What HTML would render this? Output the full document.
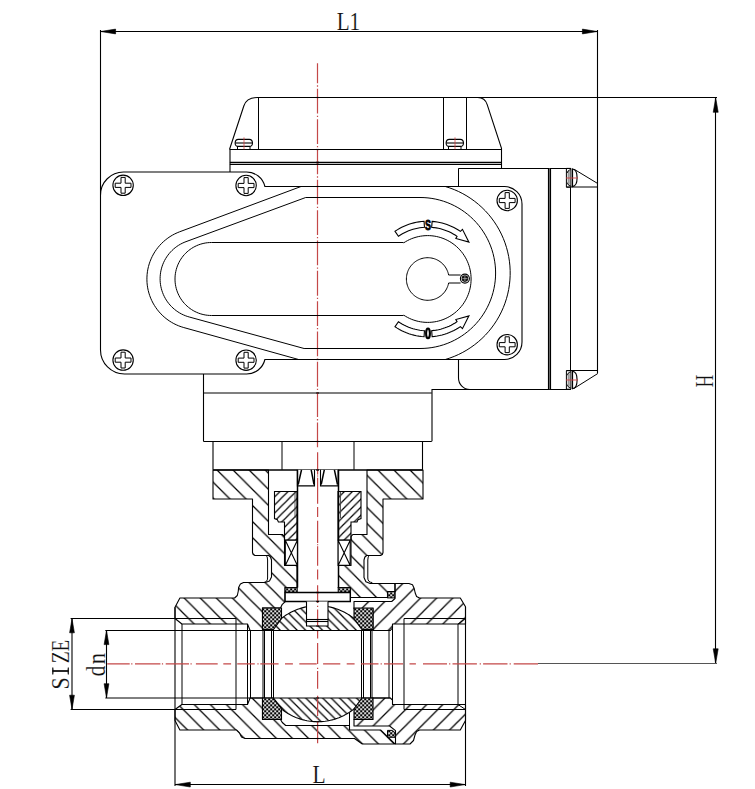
<!DOCTYPE html>
<html><head><meta charset="utf-8"><style>
html,body{margin:0;padding:0;background:#fff;}
svg{display:block;}
</style></head><body>
<svg width="755" height="789" viewBox="0 0 755 789" font-family="Liberation Serif, serif">
<rect width="755" height="789" fill="#fff"/>
<defs><pattern id="hA" patternUnits="userSpaceOnUse" x="4.28" y="0" width="16.08" height="16.08"><path d="M-2,-2 L18.08,18.08 M14.08,-2 L18.08,2 M-2,14.08 L2,18.08" stroke="#000" stroke-width="1.25"/></pattern><pattern id="hB" patternUnits="userSpaceOnUse" x="12.8" y="0" width="16.4" height="16.4"><path d="M-2,-2 L18.4,18.4 M14.4,-2 L18.4,2 M-2,14.4 L2,18.4" stroke="#000" stroke-width="1"/></pattern><pattern id="hC" patternUnits="userSpaceOnUse" x="4.3" y="0" width="16.1" height="16.1"><path d="M-2,18.1 L18.1,-2 M-2,2 L2,-2 M14.1,18.1 L18.1,14.1" stroke="#000" stroke-width="1.25"/></pattern><pattern id="hG" patternUnits="userSpaceOnUse" x="6.75" y="0" width="8.05" height="8.05"><path d="M-2,10.05 L10.05,-2 M-2,2 L2,-2 M6.05,10.05 L10.05,6.05" stroke="#000" stroke-width="1.25"/></pattern><pattern id="hBall" patternUnits="userSpaceOnUse" x="4.95" y="0" width="8.45" height="8.45"><path d="M-2,-2 L10.45,10.45 M6.45,-2 L10.45,2 M-2,6.45 L2,10.45" stroke="#000" stroke-width="1.25"/></pattern><pattern id="chk" patternUnits="userSpaceOnUse" width="4" height="4" x="0.2" y="0.3"><rect width="4" height="4" fill="#000"/><circle cx="1" cy="1" r="1.05" fill="#fff"/><circle cx="3" cy="3" r="1.05" fill="#fff"/></pattern></defs><path d="M229.5,149.5 L243.8,106 Q246.5,97.5 257.5,97.5 L477.7,97.5 Q485,97.5 487.2,104.6 L501.5,148.3 L501.5,168.5" stroke="#000" stroke-width="1.1" fill="none" /><line x1="229.9" y1="149.5" x2="501.5" y2="149.5" stroke="#000" stroke-width="1.1" /><line x1="230" y1="149.3" x2="230" y2="172" stroke="#000" stroke-width="1.1" /><line x1="258.5" y1="97.3" x2="258.5" y2="149.3" stroke="#000" stroke-width="1" /><line x1="443.5" y1="97.3" x2="443.5" y2="149.3" stroke="#000" stroke-width="1" /><line x1="466.5" y1="97.3" x2="466.5" y2="149.3" stroke="#000" stroke-width="1" /><line x1="229.9" y1="162.5" x2="501.5" y2="162.5" stroke="#000" stroke-width="1.6" /><line x1="229.9" y1="164.5" x2="501.5" y2="164.5" stroke="#000" stroke-width="1" /><path d="M238.3,139.4 L249.3,139.4 C253.4,139.4 253.4,146.4 250,146.4 L237.6,146.4 C234.2,146.4 234.2,139.4 238.3,139.4 Z" stroke="#000" stroke-width="1.1" fill="#fff" /><line x1="235.2" y1="143" x2="252.4" y2="143" stroke="#000" stroke-width="1.1" /><line x1="237.5" y1="146.4" x2="237.5" y2="149.3" stroke="#000" stroke-width="1" /><line x1="250" y1="146.4" x2="250" y2="149.3" stroke="#000" stroke-width="1" /><line x1="244" y1="137.4" x2="244" y2="149.3" stroke="#d04040" stroke-width="0.8" /><path d="M449.3,139.4 L460.3,139.4 C464.4,139.4 464.4,146.4 461,146.4 L448.6,146.4 C445.2,146.4 445.2,139.4 449.3,139.4 Z" stroke="#000" stroke-width="1.1" fill="#fff" /><line x1="446.2" y1="143" x2="463.4" y2="143" stroke="#000" stroke-width="1.1" /><line x1="448.5" y1="146.4" x2="448.5" y2="149.3" stroke="#000" stroke-width="1" /><line x1="461" y1="146.4" x2="461" y2="149.3" stroke="#000" stroke-width="1" /><line x1="455" y1="137.4" x2="455" y2="149.3" stroke="#d04040" stroke-width="0.8" /><line x1="458.5" y1="168.5" x2="570.9" y2="168.5" stroke="#000" stroke-width="1.1" /><line x1="458.5" y1="168.4" x2="458.5" y2="186.4" stroke="#000" stroke-width="1" /><path d="M458.5,359 L458.5,378 A11.5,11.5 0 0 0 470,389.5 L570.9,389.5" stroke="#000" stroke-width="1.1" fill="none" /><line x1="431.8" y1="389.5" x2="470" y2="389.5" stroke="#000" stroke-width="1.1" /><line x1="548.5" y1="168.4" x2="548.5" y2="389.2" stroke="#000" stroke-width="1.15" /><line x1="549.5" y1="168.4" x2="549.5" y2="389.2" stroke="#707070" stroke-width="1" /><line x1="550.5" y1="168.4" x2="550.5" y2="389.2" stroke="#000" stroke-width="1.15" /><line x1="570.5" y1="187.2" x2="570.5" y2="370.7" stroke="#000" stroke-width="1" /><path d="M566.4,168.4 L570.9,168.4 L570.9,187.2 L566.4,187.2Z" stroke="#000" stroke-width="1" fill="none" /><line x1="566.4" y1="187" x2="598" y2="187" stroke="#000" stroke-width="1" /><rect x="567.6" y="170.9" width="2.2" height="13.8" fill="#999"/><line x1="572.5" y1="168.4" x2="572.5" y2="187.2" stroke="#000" stroke-width="1.2" /><path d="M572.5,169 C576.2,169.4 577.1,172.9 577.1,177.8 C577.1,182.7 576.2,186.2 572.5,186.6" stroke="#000" stroke-width="1.1" fill="none" /><path d="M570.8,169.6 C568,170.2 567.4,171.9 567.4,172.9 M567.4,182.7 C567.4,183.7 568,185.4 570.8,186" stroke="#000" stroke-width="1" fill="none" /><line x1="574.2" y1="169.3" x2="597.7" y2="183.5" stroke="#000" stroke-width="1" /><line x1="566" y1="178" x2="578" y2="178" stroke="#d04040" stroke-width="0.9" /><path d="M566.4,370.7 L570.9,370.7 L570.9,389.2 L566.4,389.2Z" stroke="#000" stroke-width="1" fill="none" /><line x1="566.4" y1="370.5" x2="598" y2="370.5" stroke="#000" stroke-width="1" /><rect x="567.6" y="373.2" width="2.2" height="13.5" fill="#999"/><line x1="572.5" y1="370.7" x2="572.5" y2="389.2" stroke="#000" stroke-width="1.2" /><path d="M572.5,371.3 C576.2,371.7 577.1,375.2 577.1,379.95 C577.1,384.7 576.2,388.2 572.5,388.6" stroke="#000" stroke-width="1.1" fill="none" /><path d="M570.8,371.9 C568,372.5 567.4,374.2 567.4,375.2 M567.4,384.7 C567.4,385.7 568,387.4 570.8,388" stroke="#000" stroke-width="1" fill="none" /><line x1="574.2" y1="388.3" x2="597.7" y2="373.6" stroke="#000" stroke-width="1" /><line x1="566" y1="380" x2="578" y2="380" stroke="#d04040" stroke-width="0.9" /><line x1="597.5" y1="30" x2="597.5" y2="373.6" stroke="#000" stroke-width="1.1" /><path d="M100.5,195 A23,23 0 0 1 123.5,172 L246.5,172 A18.8,18.8 0 0 1 264.9,186.5 L504.5,186.5 A17.5,17.5 0 0 1 522,204 L522,342 A17.5,17.5 0 0 1 504.5,359.5 L264.9,359.5 A18.8,18.8 0 0 1 246.5,374 L124.5,374 A24,24 0 0 1 100.5,350 Z" stroke="#000" stroke-width="1.1" fill="none" /><line x1="100.5" y1="30" x2="100.5" y2="195" stroke="#000" stroke-width="1.1" /><path d="M301,186.5 L179.68,231.78 L177.18,232.79 L174.74,233.93 L172.36,235.2 L170.06,236.6 L167.83,238.11 L165.69,239.75 L163.63,241.49 L161.68,243.35 L159.82,245.3 L158.08,247.35 L156.44,249.49 L154.92,251.72 L153.52,254.02 L152.25,256.4 L151.11,258.84 L150.1,261.34 L149.22,263.88 L148.48,266.47 L147.88,269.1 L147.42,271.76 L147.11,274.43 L146.94,277.12 L146.91,279.82 L147.02,282.51 L147.28,285.19 L147.68,287.85 L148.23,290.49 L148.91,293.1 L149.73,295.66 L150.69,298.18 L151.79,300.65 L153.01,303.05 L154.36,305.38 L155.83,307.64 L157.42,309.81 L159.12,311.9 L160.93,313.89 L162.85,315.79 L164.87,317.58 L166.97,319.25 L169.17,320.82 L171.44,322.26 L173.79,323.58 L176.21,324.77 L178.68,325.84 L181.21,326.76 L183.79,327.56 L298.6,359.5" stroke="#000" stroke-width="1" fill="none" /><path d="M445.31,186.5 L449.82,187.94 L454.25,189.62 L458.58,191.53 L462.8,193.66 L466.91,196.01 L470.89,198.58 L474.73,201.35 L478.41,204.32 L481.94,207.47 L485.3,210.81 L488.47,214.32 L491.46,217.99 L494.25,221.82 L496.84,225.78 L499.21,229.87 L501.36,234.09 L503.3,238.41 L505,242.83 L506.46,247.33 L507.69,251.9 L508.68,256.53 L509.42,261.2 L509.92,265.91 L510.17,270.63 L510.17,275.37 L509.92,280.09 L509.42,284.8 L508.68,289.47 L507.69,294.1 L506.46,298.67 L505,303.17 L503.3,307.59 L501.36,311.91 L499.21,316.13 L496.84,320.22 L494.25,324.18 L491.46,328.01 L488.47,331.68 L485.3,335.19 L481.94,338.53 L478.41,341.68 L474.73,344.65 L470.89,347.42 L466.91,349.99 L462.8,352.34 L458.58,354.47 L454.25,356.38 L449.82,358.06 L445.31,359.5" stroke="#000" stroke-width="1" fill="none" /><path d="M420,197.5 L305.7,197.5 L186,241.65 L184.07,242.42 L182.18,243.29 L180.34,244.26 L178.55,245.32 L176.82,246.48 L175.16,247.72 L173.56,249.05 L172.04,250.47 L170.59,251.96 L169.22,253.52 L167.93,255.16 L166.74,256.86 L165.63,258.62 L164.62,260.43 L163.7,262.3 L162.89,264.21 L162.17,266.16 L161.56,268.15 L161.05,270.17 L160.65,272.21 L160.36,274.27 L160.18,276.34 L160.1,278.42 L160.14,280.49 L160.28,282.57 L160.53,284.63 L160.89,286.68 L161.36,288.71 L161.93,290.71 L162.61,292.67 L163.39,294.6 L164.27,296.48 L165.24,298.32 L166.32,300.1 L167.48,301.82 L168.73,303.48 L170.07,305.07 L171.49,306.59 L172.99,308.03 L174.56,309.4 L176.2,310.67 L177.91,311.86 L179.67,312.96 L181.49,313.97 L183.36,314.87 L185.28,315.68 L187.23,316.39 L189.22,316.99 L304.1,348.5 L420,348.5 L420,348.5 L424.05,348.4 L427.99,348.09 L431.91,347.57 L435.8,346.85 L439.64,345.93 L443.43,344.8 L447.16,343.49 L450.81,341.97 L454.38,340.27 L457.85,338.38 L461.22,336.32 L464.48,334.08 L467.61,331.67 L470.62,329.11 L473.49,326.39 L476.21,323.52 L478.77,320.51 L481.18,317.38 L483.42,314.12 L485.48,310.75 L487.37,307.28 L489.07,303.71 L490.59,300.06 L491.9,296.33 L493.03,292.54 L493.95,288.7 L494.67,284.81 L495.19,280.89 L495.5,276.95 L495.6,273 L495.5,269.05 L495.19,265.11 L494.67,261.19 L493.95,257.3 L493.03,253.46 L491.9,249.67 L490.59,245.94 L489.07,242.29 L487.37,238.72 L485.48,235.25 L483.42,231.88 L481.18,228.62 L478.77,225.49 L476.21,222.48 L473.49,219.61 L470.62,216.89 L467.61,214.33 L464.48,211.92 L461.22,209.68 L457.85,207.62 L454.38,205.73 L450.81,204.03 L447.16,202.51 L443.43,201.2 L439.64,200.07 L435.8,199.15 L431.91,198.43 L427.99,197.91 L424.05,197.6 L420,197.5Z" stroke="#000" stroke-width="1" fill="none" /><path d="M211.5,242.5 L403.4,242.5 L403.65,242.87 L405.58,241.66 L407.58,240.55 L409.63,239.54 L411.73,238.64 L413.88,237.86 L416.06,237.19 L418.28,236.64 L420.52,236.2 L422.78,235.88 L425.05,235.68 L427.34,235.6 L429.62,235.64 L431.9,235.8 L434.17,236.08 L436.42,236.48 L438.64,237 L440.84,237.64 L442.99,238.38 L445.11,239.24 L447.18,240.22 L449.19,241.29 L451.14,242.48 L453.03,243.76 L454.85,245.14 L456.6,246.62 L458.26,248.18 L459.84,249.83 L461.33,251.57 L462.73,253.37 L464.03,255.25 L465.22,257.2 L466.32,259.2 L467.31,261.26 L468.19,263.37 L468.95,265.52 L469.61,267.71 L470.14,269.93 L470.56,272.17 L470.86,274.44 L471.04,276.72 L471.1,279 L471.04,281.28 L470.86,283.56 L470.56,285.83 L470.14,288.07 L469.61,290.29 L468.95,292.48 L468.19,294.63 L467.31,296.74 L466.32,298.8 L465.22,300.8 L464.03,302.75 L462.73,304.63 L461.33,306.43 L459.84,308.17 L458.26,309.82 L456.6,311.38 L454.85,312.86 L453.03,314.24 L451.14,315.52 L449.19,316.71 L447.18,317.78 L445.11,318.76 L442.99,319.62 L440.84,320.36 L438.64,321 L436.42,321.52 L434.17,321.92 L431.9,322.2 L429.62,322.36 L427.34,322.4 L425.05,322.32 L422.78,322.12 L420.52,321.8 L418.28,321.36 L416.06,320.81 L413.88,320.14 L411.73,319.36 L409.63,318.46 L407.58,317.45 L405.58,316.34 L403.65,315.13 L403.4,315.5 L211.5,315.5 L211.5,315.5 L209.59,315.45 L207.68,315.3 L205.79,315.05 L203.91,314.7 L202.05,314.26 L200.22,313.71 L198.42,313.08 L196.65,312.34 L194.93,311.52 L193.25,310.61 L191.62,309.61 L190.05,308.53 L188.53,307.37 L187.08,306.12 L185.69,304.81 L184.38,303.42 L183.13,301.97 L181.97,300.45 L180.89,298.88 L179.89,297.25 L178.98,295.57 L178.16,293.85 L177.42,292.08 L176.79,290.28 L176.24,288.45 L175.8,286.59 L175.45,284.71 L175.2,282.82 L175.05,280.91 L175,279 L175.05,277.09 L175.2,275.18 L175.45,273.29 L175.8,271.41 L176.24,269.55 L176.79,267.72 L177.42,265.92 L178.16,264.15 L178.98,262.43 L179.89,260.75 L180.89,259.12 L181.97,257.55 L183.13,256.03 L184.38,254.58 L185.69,253.19 L187.08,251.88 L188.53,250.63 L190.05,249.47 L191.62,248.39 L193.25,247.39 L194.93,246.48 L196.65,245.66 L198.42,244.92 L200.22,244.29 L202.05,243.74 L203.91,243.3 L205.79,242.95 L207.68,242.7 L209.59,242.55 L211.5,242.5Z" stroke="#000" stroke-width="1" fill="none" /><path d="M448.62,283 L448.35,284.23 L448,285.44 L447.59,286.62 L447.1,287.78 L446.55,288.91 L445.93,290.01 L445.25,291.07 L444.51,292.08 L443.71,293.05 L442.85,293.97 L441.94,294.84 L440.98,295.65 L439.98,296.41 L438.93,297.1 L437.84,297.73 L436.72,298.3 L435.56,298.8 L434.38,299.23 L433.17,299.58 L431.95,299.87 L430.71,300.09 L429.46,300.23 L428.2,300.29 L426.95,300.29 L425.69,300.21 L424.44,300.05 L423.21,299.82 L421.99,299.52 L420.78,299.15 L419.61,298.7 L418.46,298.19 L417.34,297.61 L416.26,296.97 L415.22,296.26 L414.22,295.5 L413.27,294.67 L412.37,293.79 L411.53,292.86 L410.74,291.88 L410.01,290.86 L409.34,289.8 L408.73,288.69 L408.19,287.56 L407.72,286.39 L407.32,285.2 L406.99,283.98 L406.73,282.75 L406.55,281.51 L406.44,280.26 L406.4,279 L406.44,277.74 L406.55,276.49 L406.73,275.25 L406.99,274.02 L407.32,272.8 L407.72,271.61 L408.19,270.44 L408.73,269.31 L409.34,268.2 L410.01,267.14 L410.74,266.12 L411.53,265.14 L412.37,264.21 L413.27,263.33 L414.22,262.5 L415.22,261.74 L416.26,261.03 L417.34,260.39 L418.46,259.81 L419.61,259.3 L420.78,258.85 L421.99,258.48 L423.21,258.18 L424.44,257.95 L425.69,257.79 L426.95,257.71 L428.2,257.71 L429.46,257.77 L430.71,257.91 L431.95,258.13 L433.17,258.42 L434.38,258.77 L435.56,259.2 L436.72,259.7 L437.84,260.27 L438.93,260.9 L439.98,261.59 L440.98,262.35 L441.94,263.16 L442.85,264.03 L443.71,264.95 L444.51,265.92 L445.25,266.93 L445.93,267.99 L446.55,269.09 L447.1,270.22 L447.59,271.38 L448,272.56 L448.35,273.77 L448.62,275" stroke="#000" stroke-width="1" fill="none" /><line x1="448.62" y1="275" x2="460.6" y2="275" stroke="#000" stroke-width="1" /><line x1="448.62" y1="283" x2="460.6" y2="283" stroke="#000" stroke-width="1" /><circle cx="464.9" cy="278.6" r="4.5" fill="#fff" stroke="#000" stroke-width="1.1"/><circle cx="464.9" cy="278.6" r="3.3" fill="#111"/><line x1="462.4" y1="278.6" x2="467.4" y2="278.6" stroke="#bbb" stroke-width="0.7" /><line x1="464.9" y1="276.1" x2="464.9" y2="281.1" stroke="#bbb" stroke-width="0.7" /><path d="M395.04,231.31 L397.21,229.89 L399.44,228.58 L401.73,227.36 L404.07,226.25 L406.45,225.25 L408.88,224.35 L411.35,223.56 L413.85,222.88 L416.37,222.32 L418.92,221.87 L421.49,221.53 L424.07,221.31 L424.45,227.3 L422.14,227.5 L419.83,227.8 L417.55,228.2 L415.29,228.71 L413.05,229.32 L410.84,230.02 L408.66,230.83 L406.52,231.73 L404.43,232.72 L402.38,233.81 L400.38,234.99 L398.43,236.26Z" stroke="#000" stroke-width="1.1" fill="#fff" /><path d="M432.13,221.37 L434.65,221.62 L437.16,221.98 L439.64,222.45 L442.11,223.02 L444.54,223.71 L446.95,224.5 L449.31,225.39 L451.64,226.39 L453.92,227.49 L456.15,228.69 L458.32,229.98 L460.44,231.37 L462.46,229.36 L468.92,242.14 L455.84,238.52 L457.04,236.31 L455.14,235.07 L453.19,233.91 L451.2,232.84 L449.15,231.85 L447.07,230.96 L444.95,230.16 L442.79,229.45 L440.61,228.83 L438.4,228.32 L436.18,227.9 L433.93,227.58 L431.67,227.35Z" stroke="#000" stroke-width="1.1" fill="#fff" stroke-linejoin="miter"/><path d="M395.04,326.69 L397.21,328.11 L399.44,329.42 L401.73,330.64 L404.07,331.75 L406.45,332.75 L408.88,333.65 L411.35,334.44 L413.85,335.12 L416.37,335.68 L418.92,336.13 L421.49,336.47 L424.07,336.69 L424.45,330.7 L422.14,330.5 L419.83,330.2 L417.55,329.8 L415.29,329.29 L413.05,328.68 L410.84,327.98 L408.66,327.17 L406.52,326.27 L404.43,325.28 L402.38,324.19 L400.38,323.01 L398.43,321.74Z" stroke="#000" stroke-width="1.1" fill="#fff" /><path d="M432.13,336.63 L434.65,336.38 L437.16,336.02 L439.64,335.55 L442.11,334.98 L444.54,334.29 L446.95,333.5 L449.31,332.61 L451.64,331.61 L453.92,330.51 L456.15,329.31 L458.32,328.02 L460.44,326.63 L462.46,328.64 L468.92,315.86 L455.84,319.48 L457.04,321.69 L455.14,322.93 L453.19,324.09 L451.2,325.16 L449.15,326.15 L447.07,327.04 L444.95,327.84 L442.79,328.55 L440.61,329.17 L438.4,329.68 L436.18,330.1 L433.93,330.42 L431.67,330.65Z" stroke="#000" stroke-width="1.1" fill="#fff" stroke-linejoin="miter"/><text x="0" y="0" transform="translate(428.1,229.8) scale(0.6,1)" font-family="Liberation Sans" font-weight="bold" font-size="15" text-anchor="middle" stroke="#000" stroke-width="0.9">S</text><ellipse cx="428.0" cy="333.4" rx="1.9" ry="4.9" fill="none" stroke="#000" stroke-width="2.1"/><circle cx="123.1" cy="185.3" r="10.2" fill="#fff" stroke="#000" stroke-width="1.1"/><path d="M121,177.4 L125.2,177.4 L125.2,183.2 L131,183.2 L131,187.4 L125.2,187.4 L125.2,193.2 L121,193.2 L121,187.4 L115.2,187.4 L115.2,183.2 L121,183.2Z" stroke="#000" stroke-width="1.0" fill="none" stroke-linejoin="round"/><circle cx="246.1" cy="185.5" r="10.2" fill="#fff" stroke="#000" stroke-width="1.1"/><path d="M244,177.6 L248.2,177.6 L248.2,183.4 L254,183.4 L254,187.6 L248.2,187.6 L248.2,193.4 L244,193.4 L244,187.6 L238.2,187.6 L238.2,183.4 L244,183.4Z" stroke="#000" stroke-width="1.0" fill="none" stroke-linejoin="round"/><circle cx="123.1" cy="360.1" r="10.2" fill="#fff" stroke="#000" stroke-width="1.1"/><path d="M121,352.2 L125.2,352.2 L125.2,358 L131,358 L131,362.2 L125.2,362.2 L125.2,368 L121,368 L121,362.2 L115.2,362.2 L115.2,358 L121,358Z" stroke="#000" stroke-width="1.0" fill="none" stroke-linejoin="round"/><circle cx="246.1" cy="360.2" r="10.2" fill="#fff" stroke="#000" stroke-width="1.1"/><path d="M244,352.3 L248.2,352.3 L248.2,358.1 L254,358.1 L254,362.3 L248.2,362.3 L248.2,368.1 L244,368.1 L244,362.3 L238.2,362.3 L238.2,358.1 L244,358.1Z" stroke="#000" stroke-width="1.0" fill="none" stroke-linejoin="round"/><circle cx="507.2" cy="200.5" r="10.2" fill="#fff" stroke="#000" stroke-width="1.1"/><path d="M505.1,192.6 L509.3,192.6 L509.3,198.4 L515.1,198.4 L515.1,202.6 L509.3,202.6 L509.3,208.4 L505.1,208.4 L505.1,202.6 L499.3,202.6 L499.3,198.4 L505.1,198.4Z" stroke="#000" stroke-width="1.0" fill="none" stroke-linejoin="round"/><circle cx="507.2" cy="344.7" r="10.2" fill="#fff" stroke="#000" stroke-width="1.1"/><path d="M505.1,336.8 L509.3,336.8 L509.3,342.6 L515.1,342.6 L515.1,346.8 L509.3,346.8 L509.3,352.6 L505.1,352.6 L505.1,346.8 L499.3,346.8 L499.3,342.6 L505.1,342.6Z" stroke="#000" stroke-width="1.0" fill="none" stroke-linejoin="round"/><line x1="203.5" y1="374" x2="203.5" y2="441.3" stroke="#000" stroke-width="1.1" /><line x1="203.4" y1="393" x2="431.8" y2="393" stroke="#000" stroke-width="1.1" /><line x1="432" y1="389.2" x2="432" y2="441.3" stroke="#000" stroke-width="1.1" /><line x1="203.4" y1="441.5" x2="431.8" y2="441.5" stroke="#000" stroke-width="1.1" /><line x1="213" y1="441.3" x2="213" y2="469.8" stroke="#000" stroke-width="1.1" /><line x1="422.5" y1="441.3" x2="422.5" y2="469.8" stroke="#000" stroke-width="1.1" /><line x1="282" y1="441.3" x2="282" y2="469.8" stroke="#000" stroke-width="1" /><line x1="354" y1="441.3" x2="354" y2="469.8" stroke="#000" stroke-width="1" /><path d="M213,470 L268.5,470 L268.5,534.5 L282.4,534.5 L284.5,536.6 L284.5,565.5 L297,565.5 L297,587.5 L285,587.5 L285,601.9 L282.3,604.3 L280.5,608 L262.5,608 L262.5,630.5 L250.1,630.5 L247.5,624 L181.9,624 L175,618.5 L175,607.2 L179.9,598 L234.6,598 L237.3,595.5 L238.3,591 L238.6,587.5 L240.4,584 L243.5,582.5 L265.2,582.5 L269.5,581 L271.5,577 L271.5,560 L270.5,557 L268.7,555.5 L255,555.5 L253.2,554.5 L252.5,552.5 L252.5,499 L213,499Z" stroke="#000" stroke-width="0" fill="url(#hA)" /><path d="M423,470 L367,470 L367,534.5 L352.8,534.5 L351,536.6 L351,565.5 L338,565.5 L338,587.5 L350.5,587.5 L350.5,597.5 L387.5,597.5 L387.5,591.5 L395,591.5 L395,583.5 L370.2,583.5 L365.9,581.7 L364,577.5 L364,560 L364.9,557 L366.7,555.5 L380.5,555.5 L382.3,554.5 L383,552.5 L383,499 L423,499Z" stroke="#000" stroke-width="0" fill="url(#hA)" /><path d="M175,709.5 L181.9,704.5 L247.5,704.5 L250.1,698 L262.5,698 L262.5,719.5 L280.5,719.5 L282.3,722.5 L285.7,725.5 L349.5,725.5 L349.5,730 L380.6,730 L394.9,744 L362.3,744 L354.5,738.5 L245,738.5 L241.5,737 L239.5,733 L236.5,730 L179.9,730 L175,720.6Z" stroke="#000" stroke-width="0" fill="url(#hA)" /><path d="M354,608.5 L354,601.5 L391.7,601.5 L395,598.5 L395,583.5 L408.9,583.5 L412.5,584.8 L414.2,588.5 L415.2,593 L416.6,596.5 L419.5,598 L460.3,598 L465.5,606.8 L465.5,618.5 L465.5,624 L392.5,624 L392.5,628 L390.3,630.5 L373,630.5 L373,608.5Z" stroke="#000" stroke-width="0" fill="url(#hC)" /><path d="M354,719.5 L372.5,719.5 L372.5,698 L390.3,698 L392.5,700.2 L392.5,704.5 L465.5,704.5 L465.5,720.6 L460.3,730 L419.5,730 L416.6,731.5 L415,735 L413.5,740.5 L410,744 L395.5,744 L395.5,730.6 L389.6,726 L354,726Z" stroke="#000" stroke-width="0" fill="url(#hC)" /><path d="M213,470 L268.5,470 L268.5,534.5 L282.4,534.5 L284.5,536.6 L284.5,565.5 L297,565.5 L297,587.5 L285,587.5 L285,601.9 L282.3,604.3 L280.5,608 L262.5,608 L262.5,630.5 L250.1,630.5 L247.5,624 L181.9,624 L175,618.5 L175,607.2 L179.9,598 L234.6,598 L237.3,595.5 L238.3,591 L238.6,587.5 L240.4,584 L243.5,582.5 L265.2,582.5 L269.5,581 L271.5,577 L271.5,560 L270.5,557 L268.7,555.5 L255,555.5 L253.2,554.5 L252.5,552.5 L252.5,499 L213,499Z" stroke="#000" stroke-width="1.1" fill="none" stroke-linejoin="round"/><path d="M423,470 L367,470 L367,534.5 L352.8,534.5 L351,536.6 L351,565.5 L338,565.5 L338,587.5 L350.5,587.5 L350.5,597.5 L387.5,597.5 L387.5,591.5 L395,591.5 L395,583.5 L370.2,583.5 L365.9,581.7 L364,577.5 L364,560 L364.9,557 L366.7,555.5 L380.5,555.5 L382.3,554.5 L383,552.5 L383,499 L423,499Z" stroke="#000" stroke-width="1.1" fill="none" stroke-linejoin="round"/><path d="M175,709.5 L181.9,704.5 L247.5,704.5 L250.1,698 L262.5,698 L262.5,719.5 L280.5,719.5 L282.3,722.5 L285.7,725.5 L349.5,725.5 L349.5,730 L380.6,730 L394.9,744 L362.3,744 L354.5,738.5 L245,738.5 L241.5,737 L239.5,733 L236.5,730 L179.9,730 L175,720.6Z" stroke="#000" stroke-width="1.1" fill="none" stroke-linejoin="round"/><path d="M354,608.5 L354,601.5 L391.7,601.5 L395,598.5 L395,583.5 L408.9,583.5 L412.5,584.8 L414.2,588.5 L415.2,593 L416.6,596.5 L419.5,598 L460.3,598 L465.5,606.8 L465.5,618.5 L465.5,624 L392.5,624 L392.5,628 L390.3,630.5 L373,630.5 L373,608.5Z" stroke="#000" stroke-width="1.1" fill="none" stroke-linejoin="round"/><path d="M354,719.5 L372.5,719.5 L372.5,698 L390.3,698 L392.5,700.2 L392.5,704.5 L465.5,704.5 L465.5,720.6 L460.3,730 L419.5,730 L416.6,731.5 L415,735 L413.5,740.5 L410,744 L395.5,744 L395.5,730.6 L389.6,726 L354,726Z" stroke="#000" stroke-width="1.1" fill="none" stroke-linejoin="round"/><line x1="213" y1="470" x2="422.8" y2="470" stroke="#000" stroke-width="1.4" /><path d="M270.14,630.5 L271.23,628.99 L272.37,627.52 L273.55,626.09 L274.78,624.69 L276.05,623.34 L277.36,622.02 L278.72,620.75 L280.11,619.53 L281.55,618.34 L283.02,617.21 L284.53,616.12 L286.07,615.08 L287.64,614.1 L289.25,613.16 L290.88,612.27 L292.54,611.44 L294.23,610.66 L295.94,609.94 L297.68,609.27 L299.43,608.65 L301.2,608.1 L302.99,607.6 L304.8,607.15 L306.62,606.77 L308.45,606.44 L310.29,606.18 L312.13,605.97 L313.99,605.82 L315.84,605.73 L317.7,605.7 L319.56,605.73 L321.41,605.82 L323.27,605.97 L325.11,606.18 L326.95,606.44 L328.78,606.77 L330.6,607.15 L332.41,607.6 L334.2,608.1 L335.97,608.65 L337.72,609.27 L339.46,609.94 L341.17,610.66 L342.86,611.44 L344.52,612.27 L346.15,613.16 L347.76,614.1 L349.33,615.08 L350.87,616.12 L352.38,617.21 L353.85,618.34 L355.29,619.53 L356.68,620.75 L358.04,622.02 L359.35,623.34 L360.62,624.69 L361.85,626.09 L363.03,627.52 L364.17,628.99 L365.26,630.5Z" stroke="#000" stroke-width="0" fill="url(#hBall)" /><path d="M270.14,630.5 L271.23,628.99 L272.37,627.52 L273.55,626.09 L274.78,624.69 L276.05,623.34 L277.36,622.02 L278.72,620.75 L280.11,619.53 L281.55,618.34 L283.02,617.21 L284.53,616.12 L286.07,615.08 L287.64,614.1 L289.25,613.16 L290.88,612.27 L292.54,611.44 L294.23,610.66 L295.94,609.94 L297.68,609.27 L299.43,608.65 L301.2,608.1 L302.99,607.6 L304.8,607.15 L306.62,606.77 L308.45,606.44 L310.29,606.18 L312.13,605.97 L313.99,605.82 L315.84,605.73 L317.7,605.7 L319.56,605.73 L321.41,605.82 L323.27,605.97 L325.11,606.18 L326.95,606.44 L328.78,606.77 L330.6,607.15 L332.41,607.6 L334.2,608.1 L335.97,608.65 L337.72,609.27 L339.46,609.94 L341.17,610.66 L342.86,611.44 L344.52,612.27 L346.15,613.16 L347.76,614.1 L349.33,615.08 L350.87,616.12 L352.38,617.21 L353.85,618.34 L355.29,619.53 L356.68,620.75 L358.04,622.02 L359.35,623.34 L360.62,624.69 L361.85,626.09 L363.03,627.52 L364.17,628.99 L365.26,630.5" stroke="#000" stroke-width="1.1" fill="none" /><path d="M270.93,698 L272.02,699.45 L273.16,700.86 L274.35,702.23 L275.57,703.57 L276.84,704.86 L278.15,706.12 L279.49,707.34 L280.88,708.51 L282.29,709.64 L283.75,710.72 L285.23,711.76 L286.75,712.75 L288.3,713.7 L289.88,714.59 L291.48,715.44 L293.11,716.23 L294.77,716.97 L296.44,717.66 L298.14,718.3 L299.86,718.89 L301.59,719.42 L303.34,719.89 L305.11,720.32 L306.88,720.68 L308.67,720.99 L310.46,721.25 L312.27,721.45 L314.08,721.59 L315.89,721.67 L317.7,721.7 L319.51,721.67 L321.32,721.59 L323.13,721.45 L324.94,721.25 L326.73,720.99 L328.52,720.68 L330.29,720.32 L332.06,719.89 L333.81,719.42 L335.54,718.89 L337.26,718.3 L338.96,717.66 L340.63,716.97 L342.29,716.23 L343.92,715.44 L345.52,714.59 L347.1,713.7 L348.65,712.75 L350.17,711.76 L351.65,710.72 L353.11,709.64 L354.52,708.51 L355.91,707.34 L357.25,706.12 L358.56,704.86 L359.83,703.57 L361.05,702.23 L362.24,700.86 L363.38,699.45 L364.47,698Z" stroke="#000" stroke-width="0" fill="url(#hBall)" /><path d="M270.93,698 L272.02,699.45 L273.16,700.86 L274.35,702.23 L275.57,703.57 L276.84,704.86 L278.15,706.12 L279.49,707.34 L280.88,708.51 L282.29,709.64 L283.75,710.72 L285.23,711.76 L286.75,712.75 L288.3,713.7 L289.88,714.59 L291.48,715.44 L293.11,716.23 L294.77,716.97 L296.44,717.66 L298.14,718.3 L299.86,718.89 L301.59,719.42 L303.34,719.89 L305.11,720.32 L306.88,720.68 L308.67,720.99 L310.46,721.25 L312.27,721.45 L314.08,721.59 L315.89,721.67 L317.7,721.7 L319.51,721.67 L321.32,721.59 L323.13,721.45 L324.94,721.25 L326.73,720.99 L328.52,720.68 L330.29,720.32 L332.06,719.89 L333.81,719.42 L335.54,718.89 L337.26,718.3 L338.96,717.66 L340.63,716.97 L342.29,716.23 L343.92,715.44 L345.52,714.59 L347.1,713.7 L348.65,712.75 L350.17,711.76 L351.65,710.72 L353.11,709.64 L354.52,708.51 L355.91,707.34 L357.25,706.12 L358.56,704.86 L359.83,703.57 L361.05,702.23 L362.24,700.86 L363.38,699.45 L364.47,698" stroke="#000" stroke-width="1.1" fill="none" /><line x1="262.6" y1="630.5" x2="372.8" y2="630.5" stroke="#000" stroke-width="1.1" /><line x1="262.6" y1="698" x2="372.8" y2="698" stroke="#000" stroke-width="1.1" /><path d="M262.5,608 L281.5,608 L281.5,618.5 L273.5,629.5 L262.5,629.5Z" stroke="#000" stroke-width="1.1" fill="url(#chk)" /><path d="M373,608 L354,608 L354,618.5 L361.9,629.5 L373,629.5Z" stroke="#000" stroke-width="1.1" fill="url(#chk)" /><path d="M262.5,719.5 L281.5,719.5 L281.5,708.9 L273.5,698 L262.5,698Z" stroke="#000" stroke-width="1.1" fill="url(#chk)" /><path d="M373,719.5 L354,719.5 L354,708.9 L361.9,698 L373,698Z" stroke="#000" stroke-width="1.1" fill="url(#chk)" /><line x1="263" y1="630.5" x2="263" y2="698" stroke="#000" stroke-width="1" /><line x1="264.5" y1="630.5" x2="264.5" y2="698" stroke="#000" stroke-width="1" /><line x1="271.5" y1="630.5" x2="271.5" y2="698" stroke="#000" stroke-width="1" /><line x1="273.5" y1="630.5" x2="273.5" y2="698" stroke="#000" stroke-width="1" /><line x1="361.5" y1="630.5" x2="361.5" y2="698" stroke="#000" stroke-width="1" /><line x1="363.5" y1="630.5" x2="363.5" y2="698" stroke="#000" stroke-width="1" /><line x1="370.5" y1="630.5" x2="370.5" y2="698" stroke="#000" stroke-width="1" /><line x1="372" y1="630.5" x2="372" y2="698" stroke="#000" stroke-width="1" /><line x1="389" y1="630.5" x2="389" y2="698" stroke="#000" stroke-width="1" /><rect x="297.2" y="469.8" width="40.9" height="117.8" fill="#fff"/><line x1="297.5" y1="469.8" x2="297.5" y2="587.6" stroke="#000" stroke-width="1.5" /><line x1="338.5" y1="469.8" x2="338.5" y2="587.6" stroke="#000" stroke-width="1.5" /><path d="M285.1,592.5 L350.3,592.5 L350.3,601.5 L285.1,601.5 Z" stroke="#000" stroke-width="1.4" fill="#fff" /><path d="M306.5,601.5 L306.5,626 L328,626 L328,601.5" stroke="#000" stroke-width="1.1" fill="#fff" /><line x1="306.5" y1="619.5" x2="328" y2="619.5" stroke="#000" stroke-width="1.1" /><line x1="306.5" y1="621.5" x2="328" y2="621.5" stroke="#000" stroke-width="1.1" /><path d="M297.4,469.8 L297.4,485.9 L314.5,485.9 L314.5,469.8" stroke="#000" stroke-width="1.1" fill="none" /><path d="M320.5,469.8 L320.5,485.9 L338.1,485.9 L338.1,469.8" stroke="#000" stroke-width="1.1" fill="none" /><path d="M301.5,469.8 L298.2,484.5 M311.2,469.8 L314,484.5 M324.3,469.8 L321.2,484.5 M334.4,469.8 L337.5,484.5" stroke="#000" stroke-width="1.5" fill="none" /><path d="M274.5,491.5 L297,491.5 L297,540 L284.5,540 L284.5,522 L278.4,522 L277.4,519.8 L274.5,518.6Z" stroke="#000" stroke-width="1.1" fill="url(#hG)" /><path d="M361,491.5 L338,491.5 L338,540 L351,540 L351,522 L357,522 L358,519.8 L361,518.6Z" stroke="#000" stroke-width="1.1" fill="url(#hG)" /><line x1="295" y1="492" x2="295" y2="518" stroke="#444" stroke-width="0.9" /><line x1="340.5" y1="492" x2="340.5" y2="518" stroke="#444" stroke-width="0.9" /><path d="M285.3,540.2 L297.4,540.2 L297.4,565.4 L285.3,565.4 Z M285.3,540.2 L297.4,565.4 M297.4,540.2 L285.3,565.4" stroke="#000" stroke-width="1.1" fill="#fff" /><path d="M338.1,540.2 L350.2,540.2 L350.2,565.4 L338.1,565.4 Z M338.1,540.2 L350.2,565.4 M350.2,540.2 L338.1,565.4" stroke="#000" stroke-width="1.1" fill="#fff" /><rect x="285.1" y="587.6" width="12.1" height="4.5" fill="url(#chk)" stroke="#000" stroke-width="1"/><rect x="338.2" y="587.6" width="12.1" height="4.5" fill="url(#chk)" stroke="#000" stroke-width="1"/><rect x="387.7" y="591.5" width="7.1" height="6.4" fill="url(#chk)" stroke="#000" stroke-width="1"/><path d="M387.5,730.4 L392.5,730.4 L395.3,733 L395.3,737.3 L387.5,737.3 Z" stroke="#000" stroke-width="1" fill="url(#chk)" /><line x1="349.5" y1="712.6" x2="349.5" y2="726" stroke="#000" stroke-width="1" /><path d="M265.9,555.5 Q267.6,556 267.6,560 L267.6,578 Q267.6,582.2 263.1,582.6" stroke="#000" stroke-width="1" fill="none" /><path d="M369.5,555.5 Q367.8,556 367.8,560 L367.8,578 Q367.8,582.2 372.3,582.6" stroke="#000" stroke-width="1" fill="none" /><line x1="175" y1="618.5" x2="236" y2="618.5" stroke="#000" stroke-width="1" /><line x1="175" y1="709.5" x2="236" y2="709.5" stroke="#000" stroke-width="1" /><line x1="182" y1="624" x2="182" y2="704.5" stroke="#000" stroke-width="1" /><line x1="236" y1="618.5" x2="236" y2="709.5" stroke="#000" stroke-width="1" /><line x1="247.5" y1="624" x2="247.5" y2="704.5" stroke="#000" stroke-width="1" /><line x1="250.5" y1="630.5" x2="250.5" y2="698" stroke="#000" stroke-width="1" /><line x1="181.9" y1="704.5" x2="247.5" y2="704.5" stroke="#000" stroke-width="1" /><line x1="250.1" y1="630.5" x2="262.6" y2="630.5" stroke="#000" stroke-width="1" /><line x1="250.1" y1="698" x2="262.6" y2="698" stroke="#000" stroke-width="1" /><line x1="175" y1="607.2" x2="175" y2="786" stroke="#000" stroke-width="1.1" /><line x1="404" y1="618.5" x2="465.5" y2="618.5" stroke="#000" stroke-width="1" /><line x1="404" y1="709.5" x2="465.5" y2="709.5" stroke="#000" stroke-width="1" /><line x1="392.5" y1="624" x2="392.5" y2="704.5" stroke="#000" stroke-width="1" /><line x1="404" y1="618.5" x2="404" y2="709.5" stroke="#000" stroke-width="1" /><line x1="458" y1="624" x2="458" y2="704.5" stroke="#000" stroke-width="1" /><line x1="458" y1="624" x2="465.5" y2="618.5" stroke="#000" stroke-width="1" /><line x1="458" y1="704.5" x2="465.5" y2="709.5" stroke="#000" stroke-width="1" /><line x1="465.5" y1="606.8" x2="465.5" y2="786" stroke="#000" stroke-width="1.1" /><line x1="372.8" y1="630.5" x2="390.3" y2="630.5" stroke="#000" stroke-width="1" /><line x1="372.8" y1="698" x2="390.3" y2="698" stroke="#000" stroke-width="1" /><line x1="100.5" y1="31.5" x2="597.5" y2="31.5" stroke="#000" stroke-width="1.1" /><path d="M100.6,31.5 L115.6,29.1 L115.6,33.9Z" stroke="#000" stroke-width="0.6" fill="#000" /><path d="M597.4,31.5 L582.4,33.9 L582.4,29.1Z" stroke="#000" stroke-width="0.6" fill="#000" /><line x1="257" y1="97.5" x2="717" y2="97.5" stroke="#000" stroke-width="1.1" /><line x1="715.5" y1="97.4" x2="715.5" y2="663.7" stroke="#000" stroke-width="1.1" /><path d="M715.7,97.8 L718.2,112.3 L713.2,112.3Z" stroke="#000" stroke-width="0.6" fill="#000" /><path d="M715.7,663.3 L713.2,648.8 L718.2,648.8Z" stroke="#000" stroke-width="0.6" fill="#000" /><line x1="538" y1="663.5" x2="717" y2="663.5" stroke="#555" stroke-width="1.1" /><line x1="175" y1="784.5" x2="465.5" y2="784.5" stroke="#000" stroke-width="1.1" /><path d="M175.3,784.6 L190.3,782.2 L190.3,787Z" stroke="#000" stroke-width="0.6" fill="#000" /><path d="M465.2,784.6 L450.2,787 L450.2,782.2Z" stroke="#000" stroke-width="0.6" fill="#000" /><line x1="70.6" y1="618.5" x2="175" y2="618.5" stroke="#000" stroke-width="1" /><line x1="70.6" y1="709.5" x2="175" y2="709.5" stroke="#000" stroke-width="1" /><line x1="72" y1="618.5" x2="72" y2="709.5" stroke="#000" stroke-width="1.1" /><path d="M72,618.8 L74.4,632.8 L69.6,632.8Z" stroke="#000" stroke-width="0.6" fill="#000" /><path d="M72,709.2 L69.6,695.2 L74.4,695.2Z" stroke="#000" stroke-width="0.6" fill="#000" /><line x1="105.3" y1="630.5" x2="250.1" y2="630.5" stroke="#000" stroke-width="1" /><line x1="105.3" y1="698" x2="250.1" y2="698" stroke="#000" stroke-width="1" /><line x1="106.5" y1="630.5" x2="106.5" y2="698" stroke="#000" stroke-width="1.1" /><path d="M106.5,630.6 L108.9,644.6 L104.1,644.6Z" stroke="#000" stroke-width="0.6" fill="#000" /><path d="M106.5,697.7 L104.1,683.7 L108.9,683.7Z" stroke="#000" stroke-width="0.6" fill="#000" /><path d="M52.3,670.1 L68.8,670.1 L68.8,671.9 L52.3,671.9 Z" fill="#111"/><path d="M52.2,667.4 L53.3,667.4 Q53.6,670 53.6,671 Q53.6,672 53.3,674.6 L52.2,674.6 Z" fill="#111"/><path d="M68.9,667.4 L67.8,667.4 Q67.5,670 67.5,671 Q67.5,672 67.8,674.6 L68.9,674.6 Z" fill="#111"/><text transform="translate(336.67,30.20) scale(0.827,1.024)" font-family="Liberation Serif" font-size="25.6" fill="#111" stroke="#fff" stroke-width="0.15">L1</text><text transform="translate(312.57,782.90) scale(0.829,1.006)" font-family="Liberation Serif" font-size="26.0" fill="#111" stroke="#fff" stroke-width="0.15">L</text><text transform="translate(712.90,387.28) rotate(-90) scale(0.682,0.982)" font-family="Liberation Serif" font-size="25.5" fill="#111" stroke="#fff" stroke-width="0.15">H</text><text transform="translate(69.10,689.47) rotate(-90) scale(0.836,1.006)" font-family="Liberation Serif" font-size="26.0" fill="#111" stroke="#fff" stroke-width="0.15">S</text><text transform="translate(69.10,663.36) rotate(-90) scale(0.757,1.006)" font-family="Liberation Serif" font-size="26.0" fill="#111" stroke="#fff" stroke-width="0.15">Z</text><text transform="translate(69.10,651.31) rotate(-90) scale(0.714,1.006)" font-family="Liberation Serif" font-size="26.0" fill="#111" stroke="#fff" stroke-width="0.15">E</text><text transform="translate(104.90,676.17) rotate(-90) scale(0.775,0.974)" font-family="Liberation Serif" font-size="27.0" fill="#111" stroke="#fff" stroke-width="0.15">d</text><text transform="translate(104.90,664.25) rotate(-90) scale(0.850,0.962)" font-family="Liberation Serif" font-size="27.0" fill="#111" stroke="#fff" stroke-width="0.15">n</text><line x1="317.5" y1="63.2" x2="317.5" y2="449.5" stroke="#c44848" stroke-width="1.2" stroke-dasharray="24.8 2.1 1.3 2.14" stroke-dashoffset="4.75"/><path d="M317.6,452.3 V474.6 M317.6,475.4 V476.4 M317.6,477.7 V503.7 M317.6,506.9 V517 M317.6,520.8 V543 M317.6,544.2 V545.3 M317.6,546.2 V565.7 M317.6,569.5 V579.6 M317.6,585.3 V603.1 M317.6,605.7 V606.9 M317.6,609.4 V625.9 M317.6,630.3 V638.6 M317.6,643 V664 M317.6,667.8 V669 M317.6,671 V688.7 M317.6,695.7 V716 M317.6,718 V719 M317.6,721 V743.2" stroke="#c44848" stroke-width="1.2" fill="none"/><path d="M107.2,663.9 H129.7 M131.2,663.9 H132.4 M135,663.9 H160.4 M161.9,663.9 H163.1 M165.7,663.9 H189 M190.5,663.9 H191.7 M195.9,663.9 H217.7 M223.3,663.9 H231.1 M237.2,663.9 H254.8 M257.4,663.9 H258.6 M260.3,663.9 H278.6 M285,663.9 H292.9 M299.3,663.9 H316.7 M323.1,663.9 H340.3 M346.7,663.9 H354.6 M361,663.9 H378.5 M380.6,663.9 H381.8 M384,663.9 H403.1 M409.5,663.9 H415.9 M423,663.9 H447 M449.1,663.9 H450.3 M452.5,663.9 H476.9 M479.7,663.9 H480.9 M483.1,663.9 H507.5 M509.6,663.9 H510.8 M513.7,663.9 H538" stroke="#c44848" stroke-width="1.2" fill="none"/><line x1="316.2" y1="97.5" x2="319" y2="97.5" stroke="#000" stroke-width="1.1" /><line x1="316.2" y1="149.5" x2="319" y2="149.5" stroke="#000" stroke-width="1.1" /><line x1="316.2" y1="162.5" x2="319" y2="162.5" stroke="#000" stroke-width="1.6" /><line x1="316.2" y1="164.5" x2="319" y2="164.5" stroke="#000" stroke-width="1" /><line x1="316.2" y1="186.5" x2="319" y2="186.5" stroke="#000" stroke-width="1.1" /><line x1="316.2" y1="197.5" x2="319" y2="197.5" stroke="#000" stroke-width="1" /><line x1="316.2" y1="242.5" x2="319" y2="242.5" stroke="#000" stroke-width="1" /><line x1="316.2" y1="315.5" x2="319" y2="315.5" stroke="#000" stroke-width="1" /><line x1="316.2" y1="348.5" x2="319" y2="348.5" stroke="#000" stroke-width="1" /><line x1="316.2" y1="359.5" x2="319" y2="359.5" stroke="#000" stroke-width="1.1" /><line x1="316.2" y1="393" x2="319" y2="393" stroke="#000" stroke-width="1.1" /><line x1="316.2" y1="441.5" x2="319" y2="441.5" stroke="#000" stroke-width="1.1" /><line x1="316.2" y1="470" x2="319" y2="470" stroke="#000" stroke-width="1.4" /><line x1="316.2" y1="592.5" x2="319" y2="592.5" stroke="#000" stroke-width="1.4" /><line x1="316.2" y1="601.5" x2="319" y2="601.5" stroke="#000" stroke-width="1.4" /><line x1="316.2" y1="619.5" x2="319" y2="619.5" stroke="#000" stroke-width="1.1" /><line x1="316.2" y1="621.5" x2="319" y2="621.5" stroke="#000" stroke-width="1.1" /><line x1="316.2" y1="626" x2="319" y2="626" stroke="#000" stroke-width="1.1" /><line x1="316.2" y1="630.5" x2="319" y2="630.5" stroke="#000" stroke-width="1.1" /><line x1="316.2" y1="698" x2="319" y2="698" stroke="#000" stroke-width="1.1" /><line x1="316.2" y1="721.7" x2="319" y2="721.7" stroke="#000" stroke-width="1.1" /><line x1="316.2" y1="725.5" x2="319" y2="725.5" stroke="#000" stroke-width="1.1" /><line x1="316.2" y1="738.5" x2="319" y2="738.5" stroke="#000" stroke-width="1.1" />
</svg></body></html>
